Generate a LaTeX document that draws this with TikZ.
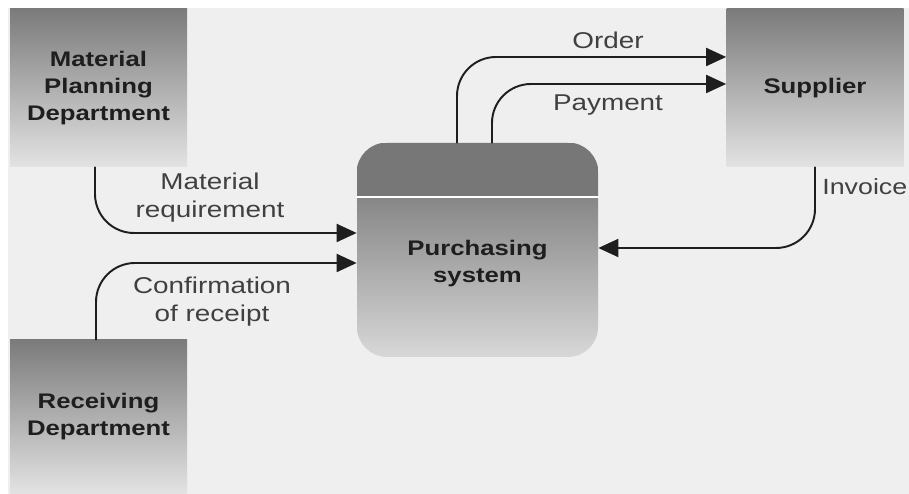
\documentclass[tikz,border=0pt]{standalone}
\usepackage{fontspec}
\setmainfont{Liberation Sans}[FakeStretch=1.22]
\usetikzlibrary{arrows.meta,positioning,calc}
\definecolor{bgc}{HTML}{EFEFEF}
\definecolor{boxtop}{HTML}{7B7B7B}
\definecolor{boxbot}{HTML}{E3E3E3}
\definecolor{bandc}{HTML}{777777}
\definecolor{txtc}{HTML}{1E1E1E}
\begin{document}
\begin{tikzpicture}[>={Triangle[length=4mm,width=3.6mm]},line join=round,line cap=round,
	dept/.style={minimum width=3.54cm,minimum height=3.16cm,inner sep=0pt,top color=boxtop,bottom color=boxbot,
		align=center,text=txtc,font=\fontsize{12}{15.4}\selectfont\bfseries},
	purch/.style={minimum width=4.82cm,minimum height=4.28cm,inner sep=0pt,rounded corners=0.6cm,
		top color=bandc!90!black,bottom color=boxbot!95!black},
	flow/.style={->,line width=1.1pt,rounded corners=0.78cm,draw=txtc},
	lab/.style={align=center,text=txtc!85!white,font=\fontsize{13}{16}\selectfont}]
	\useasboundingbox (0,0) rectangle (18.18,9.88);
	\fill[bgc] (0.16,0) rectangle (18.18,9.72);
	% external entities
	\node[dept] (mpd) at (1.97,8.12) {Material\\Planning\\Department};
	\node[dept] (sup) at (16.3,8.12) {Supplier};
	\node[dept,minimum height=3.08cm] (recv) at (1.97,1.54) {Receiving\\Department};
	% process
	\node[purch] (purch) at (9.55,4.88) {};
	\begin{scope}
		\clip[rounded corners=0.6cm] (purch.south west) rectangle (purch.north east);
		\fill[bandc] (purch.north west) rectangle ([yshift=-1.08cm]purch.north east);
	\end{scope}
	\draw[white,line width=1.2pt] ([yshift=-1.08cm]purch.north west) -- ([yshift=-1.08cm]purch.north east);
	\node[align=center,text=txtc,font=\fontsize{12}{15.4}\selectfont\bfseries] (purchtxt) at (9.55,4.6) {Purchasing\\system};
	% data flows
	\draw[flow] ([xshift=-0.07cm]mpd.south) |- ([yshift=0.34cm]purch.west);
	\draw[flow] ([xshift=-0.05cm]recv.north) |- ([yshift=-0.26cm]purch.west);
	\draw[flow] ([xshift=-0.41cm]purch.north) |- ([yshift=0.62cm]sup.west);
	\draw[flow] ([xshift=0.29cm]purch.north) |- ([yshift=0.08cm]sup.west);
	\draw[flow] (sup.south) |- ([yshift=0.04cm]purch.east);
	\node[lab] (reqlab) at (4.2,5.93) {Material\\requirement};
	\node[lab] (conflab) at (4.24,3.85) {Confirmation\\of receipt};
	\node[lab] (ordlab) at (12.16,9.08) {Order};
	\node[lab] (paylab) at (12.16,7.78) {Payment};
	\node[lab,anchor=west,inner sep=0pt,font=\fontsize{12.5}{15}\selectfont] (invlab) at (16.44,6.14) {Invoice};
\end{tikzpicture}
\end{document}
